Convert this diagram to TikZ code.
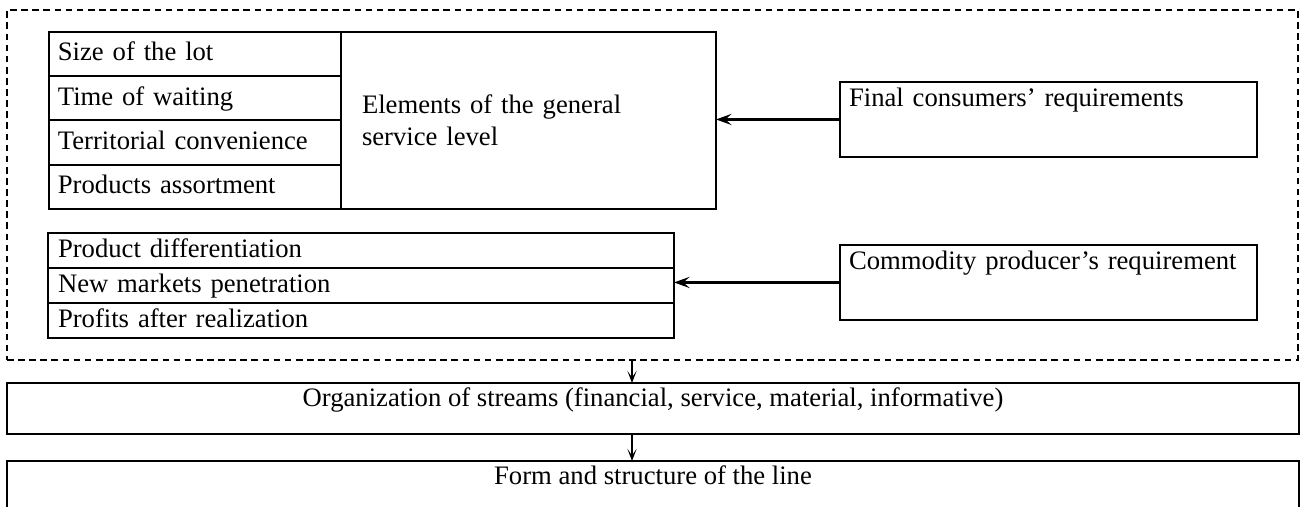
\documentclass[tikz,border=0pt]{standalone}
\usepackage{fontspec}
\setmainfont{Liberation Serif}
\usepackage{tikz}
\usetikzlibrary{arrows.meta, positioning}

\begin{document}
\begin{tikzpicture}[
  x=0.45pt, y=-0.45pt,
  font=\fontsize{12pt}{14.5pt}\selectfont,
  line width=0.9pt,
  basebox/.style={draw, outer sep=0pt, align=left},
  rowbox/.style={basebox, text width=123.4pt, inner xsep=4pt, minimum height=19.9pt,
    text height=8.5pt, text depth=2.5pt},
  itembox/.style={basebox, text width=272.7pt, inner xsep=4.5pt, inner ysep=2pt,
    minimum height=15.75pt, text height=8.5pt, text depth=2.5pt},
  elembox/.style={basebox, text width=149.85pt, inner xsep=9.45pt, minimum height=79.6pt},
  reqbox/.style={basebox, text width=179.55pt, inner xsep=4.05pt, inner ysep=2.5pt,
    text height=8.3pt, text depth=20.4pt},
  stagebox/.style={basebox, align=center, minimum width=581.4pt, inner ysep=2.07pt,
    text height=8.3pt, text depth=10.5pt},
  grpbox/.style={draw, dash pattern=on 3pt off 2pt, outer sep=0pt, inner sep=0pt,
    minimum width=580.95pt, minimum height=157.5pt},
  arrow/.style={-{Stealth[length=7pt, width=5pt, inset=2.8pt]}, line width=1pt},
  darrow/.style={-{Stealth[length=5.5pt, width=4.2pt, inset=3pt]}, line width=0.7pt}
]
  \useasboundingbox (0,0) rectangle (1300,506);

  % service level table
  \node[rowbox, anchor=north west] (lot) at (49,32) {Size of the lot};
  \node[rowbox, below=0pt of lot] (wait) {Time of waiting};
  \node[rowbox, below=0pt of wait] (terr) {Territorial convenience};
  \node[rowbox, below=0pt of terr] (asrt) {Products assortment};
  \node[elembox, anchor=north west] (elem) at (lot.north east)
    {Elements of the general\\service level};

  % producer's goals
  \node[itembox, anchor=north west] (diff) at (48,233) {Product differentiation};
  \node[itembox, below=0pt of diff] (npen) {New markets penetration};
  \node[itembox, below=0pt of npen] (prof) {Profits after realization};

  % requirements
  \node[reqbox, anchor=north west] (fin) at (840,82) {Final consumers' requirements};
  \node[reqbox, anchor=north west] (com) at (840,245) {Commodity producer's requirement};

  \draw[arrow] (fin.west) -- (fin.west -| elem.east);
  \draw[arrow] (com.west) -- (com.west -| npen.east);

  % group and stages
  \node[grpbox, anchor=north west] (grp) at (7,10) {};
  \node[stagebox, anchor=north west] (org) at (7,383)
    {Organization of streams (financial, service, material, informative)};
  \node[stagebox, anchor=north west] (form) at (7,461) {Form and structure of the line};

  \coordinate (ax) at (632,0);
  \draw[darrow] (grp.south -| ax) -- (org.north -| ax);
  \draw[darrow] (org.south -| ax) -- (form.north -| ax);
\end{tikzpicture}
\end{document}
